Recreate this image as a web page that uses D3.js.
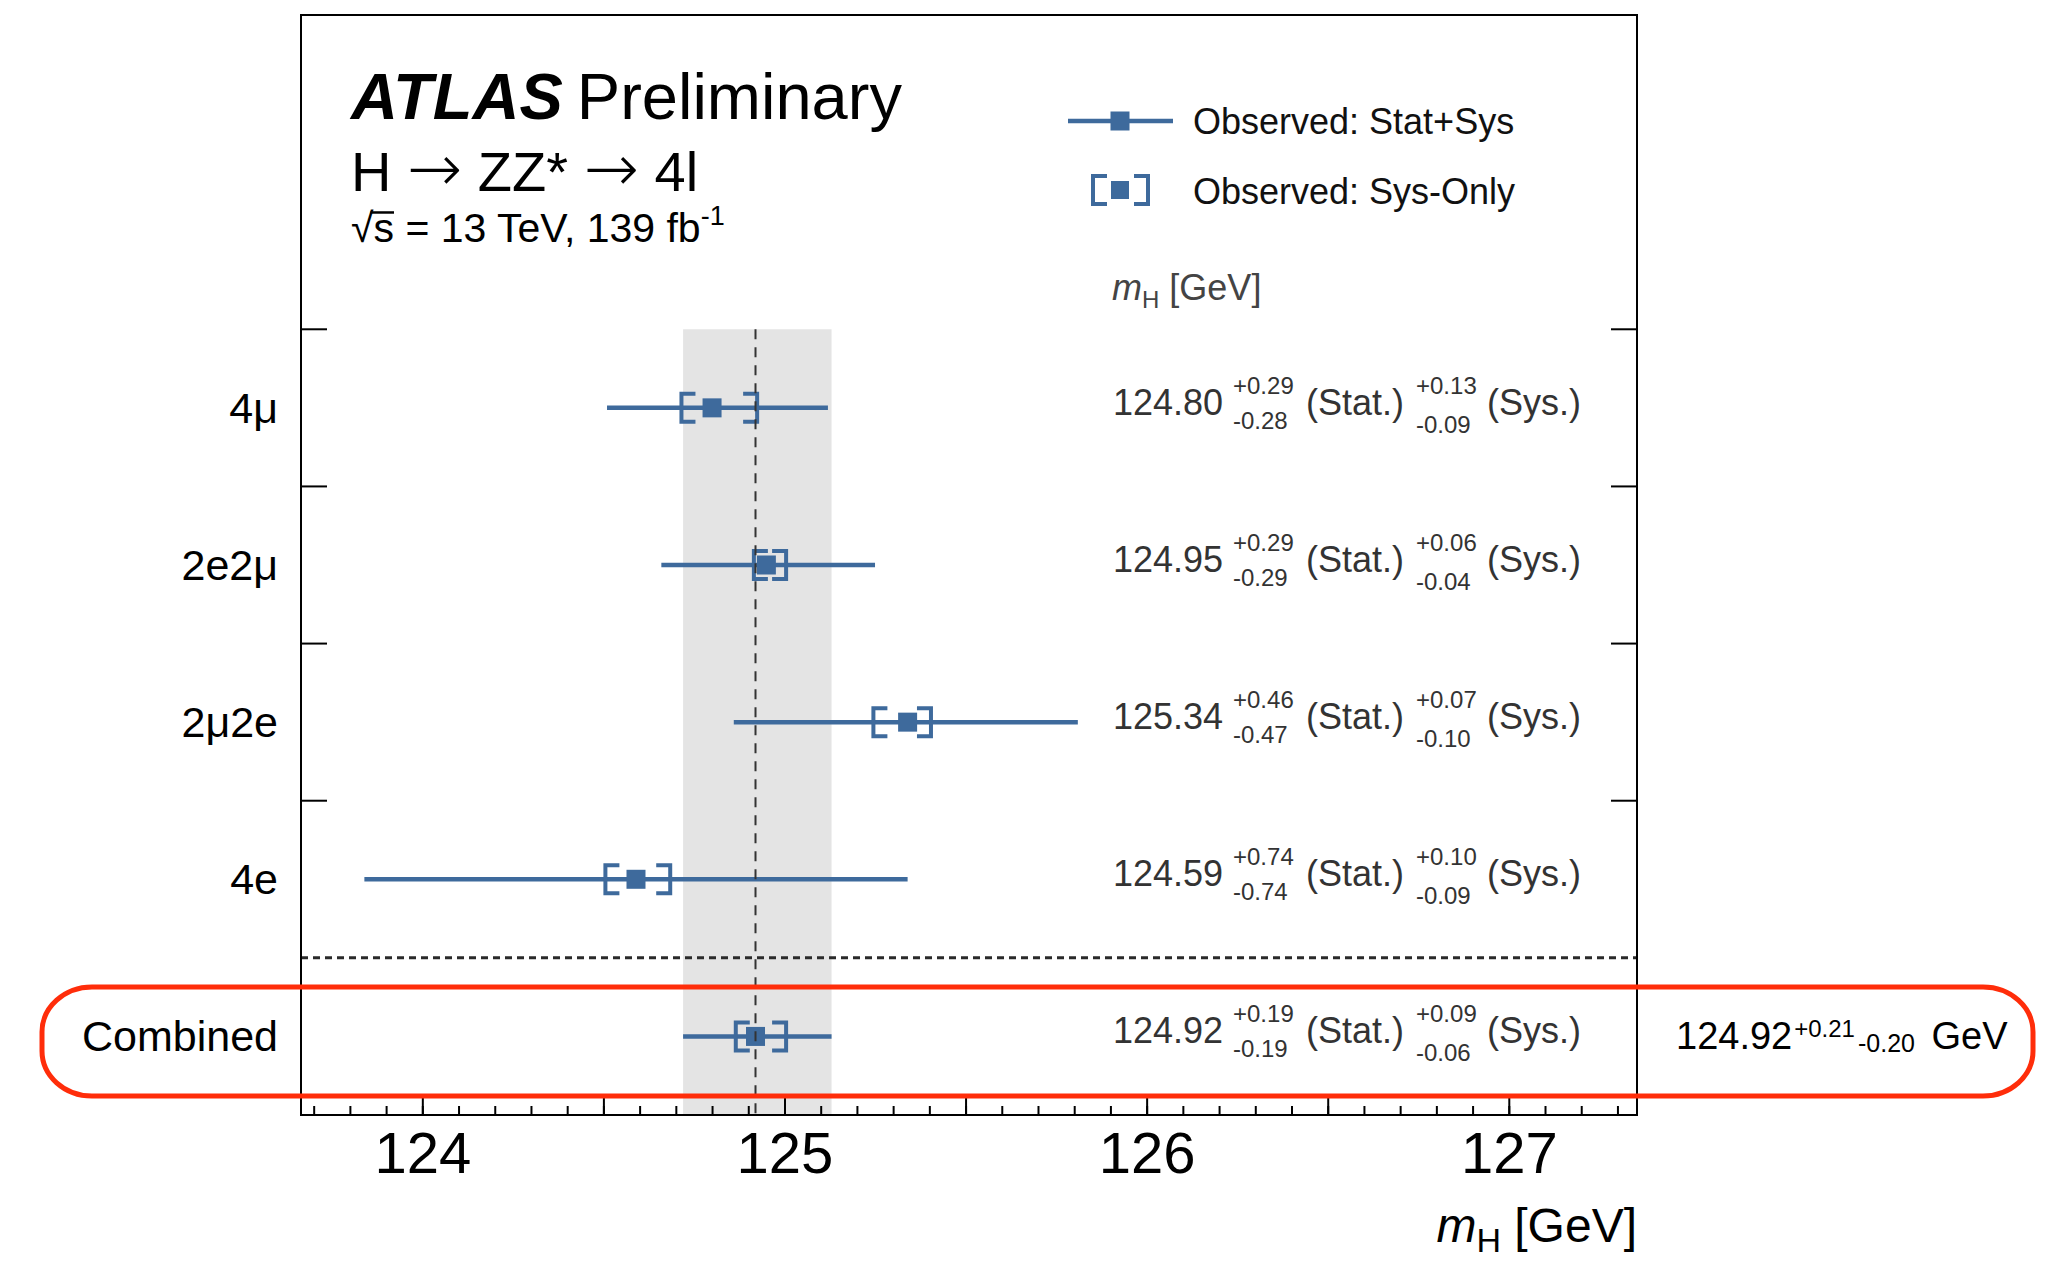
<!DOCTYPE html>
<html>
<head>
<meta charset="utf-8">
<script src="https://cdn.jsdelivr.net/npm/d3@7"></script>
<style>
  body { margin: 0; background: #fff; }
  text { font-family: "Liberation Sans", Arial, Helvetica, sans-serif; }
</style>
</head>
<body>
<svg id="chart" width="2049" height="1263"></svg>
<script>
// Higgs boson mass measurements in the H -> ZZ* -> 4l channel, per final state
const channels   = ["4μ", "2e2μ", "2μ2e", "4e", "Combined"];
const massValues = [124.80, 124.95, 125.34, 124.59, 124.92];
const statUp     = [0.29, 0.29, 0.46, 0.74, 0.19];
const statDown   = [0.28, 0.29, 0.47, 0.74, 0.19];
const sysUp      = [0.13, 0.06, 0.07, 0.10, 0.09];
const sysDown    = [0.09, 0.04, 0.10, 0.09, 0.06];
const tickLabels = [124, 125, 126, 127];

const W = 2049, H = 1263;
const frame = { left: 301, right: 1637, top: 15, bottom: 1115 };
const blue = "#3e6a9c";
const fmt = d3.format(".2f");

// total uncertainty: statistical and systematic added in quadrature
const totUp   = statUp.map((s, i) => +Math.hypot(s, sysUp[i]).toFixed(2));
const totDown = statDown.map((s, i) => +Math.hypot(s, sysDown[i]).toFixed(2));

const rows = channels.map((c, i) => ({
  name: c, m: massValues[i],
  su: statUp[i], sd: statDown[i], yu: sysUp[i], yd: sysDown[i],
  tu: totUp[i], td: totDown[i]
}));
const comb = rows[rows.length - 1];

const svg = d3.select("#chart");
svg.append("rect").attr("width", W).attr("height", H).attr("fill", "#fff");

const x = d3.scaleLinear().domain([123.665, 127.354]).range([frame.left, frame.right]);
// two header slots above the measurement rows
const y = d3.scaleBand().domain(["title", "legend", ...channels]).range([frame.top, frame.bottom]);
const cy = name => y(name) + y.bandwidth() / 2;
const rowTop = y(channels[0]);

// combined total-uncertainty band
svg.append("rect")
  .attr("x", x(comb.m - comb.td)).attr("width", x(comb.m + comb.tu) - x(comb.m - comb.td))
  .attr("y", rowTop).attr("height", frame.bottom - rowTop)
  .attr("fill", "#e4e4e4");

// x axis: minor ticks every 0.1, major every 0.5, labels on integers
const minorTicks = d3.range(1237, 1274).map(v => v / 10);
const majorTicks = d3.range(248, 255).map(v => v / 2);
const gMinor = svg.append("g").attr("transform", `translate(0,${frame.bottom})`)
  .call(d3.axisBottom(x).tickValues(minorTicks).tickSize(-9).tickFormat(""));
const gMajor = svg.append("g").attr("transform", `translate(0,${frame.bottom})`)
  .call(d3.axisBottom(x).tickValues(majorTicks).tickSize(-17).tickPadding(17)
    .tickFormat(d => tickLabels.includes(d) ? d : ""));
[gMinor, gMajor].forEach(g => {
  g.select(".domain").remove();
  g.selectAll(".tick line").attr("stroke", "#000").attr("stroke-width", 2);
});
gMajor.selectAll(".tick text").attr("font-size", 58).attr("fill", "#000")
  .style("font-family", '"Liberation Sans", Arial, Helvetica, sans-serif');

// row separators on both vertical edges
const boundaries = channels.slice(0, channels.length - 1).map(c => y(c));
svg.append("g").selectAll("line").data(boundaries).join("line")
  .attr("x1", frame.left).attr("x2", frame.left + 26).attr("y1", d => d).attr("y2", d => d)
  .attr("stroke", "#000").attr("stroke-width", 2);
svg.append("g").selectAll("line").data(boundaries).join("line")
  .attr("x1", frame.right - 26).attr("x2", frame.right).attr("y1", d => d).attr("y2", d => d)
  .attr("stroke", "#000").attr("stroke-width", 2);

// dashed separator above the combined row
svg.append("line")
  .attr("x1", frame.left).attr("x2", frame.right)
  .attr("y1", y(comb.name)).attr("y2", y(comb.name))
  .attr("stroke", "#2a2a2a").attr("stroke-width", 3).attr("stroke-dasharray", "7,5");

// measurement markers
const marks = svg.append("g").selectAll("g").data(rows).join("g");
marks.append("line")
  .attr("x1", d => x(d.m - d.td)).attr("x2", d => x(d.m + d.tu))
  .attr("y1", d => cy(d.name)).attr("y2", d => cy(d.name))
  .attr("stroke", blue).attr("stroke-width", 4.5);
function bracket(x0, yc, dir, arm = 14, half = 14) {
  // vertical bar with its outer edge at x0, arms pointing inward (dir = +1 right, -1 left)
  const xb = x0 + dir * 2;
  return `M${xb + dir * arm},${yc - half}H${xb}V${yc + half}H${xb + dir * arm}`;
}
marks.append("path")
  .attr("d", d => bracket(x(d.m - d.yd), cy(d.name), 1) + bracket(x(d.m + d.yu), cy(d.name), -1))
  .attr("fill", "none").attr("stroke", blue).attr("stroke-width", 4);
marks.append("rect")
  .attr("x", d => x(d.m) - 9.5).attr("y", d => cy(d.name) - 9.5)
  .attr("width", 19).attr("height", 19).attr("fill", blue);

// combined central value
svg.append("line")
  .attr("x1", x(comb.m)).attr("x2", x(comb.m))
  .attr("y1", rowTop).attr("y2", frame.bottom)
  .attr("stroke", "#333").attr("stroke-width", 2).attr("stroke-dasharray", "10,8");

// frame
svg.append("rect")
  .attr("x", frame.left).attr("y", frame.top)
  .attr("width", frame.right - frame.left).attr("height", frame.bottom - frame.top)
  .attr("fill", "none").attr("stroke", "#000").attr("stroke-width", 2);

// row labels
svg.append("g").selectAll("text").data(rows).join("text")
  .attr("x", 278).attr("y", d => cy(d.name) + 15)
  .attr("text-anchor", "end").attr("font-size", 43).attr("fill", "#000")
  .text(d => d.name);

// value annotations
const vals = svg.append("g").selectAll("g").data(rows).join("g")
  .attr("transform", d => `translate(1113,${cy(d.name)})`).attr("fill", "#333");
vals.append("text").attr("y", 7).attr("font-size", 36).text(d => fmt(d.m));
vals.append("text").attr("x", 120).attr("y", -14).attr("font-size", 24).text(d => "+" + fmt(d.su));
vals.append("text").attr("x", 120).attr("y", 21).attr("font-size", 24).text(d => "-" + fmt(d.sd));
vals.append("text").attr("x", 193).attr("y", 7).attr("font-size", 36).text("(Stat.)");
vals.append("text").attr("x", 303).attr("y", -14).attr("font-size", 24).text(d => "+" + fmt(d.yu));
vals.append("text").attr("x", 303).attr("y", 25).attr("font-size", 24).text(d => "-" + fmt(d.yd));
vals.append("text").attr("x", 374).attr("y", 7).attr("font-size", 36).text("(Sys.)");

// column header
const hdr = svg.append("text").attr("x", 1112).attr("y", 300).attr("font-size", 36).attr("fill", "#444");
hdr.append("tspan").attr("font-style", "italic").text("m");
hdr.append("tspan").attr("font-size", 24).attr("dy", 8).text("H");
hdr.append("tspan").attr("dy", -8).text(" [GeV]");

// title block
const t1 = svg.append("text").attr("x", 351).attr("y", 119).attr("font-size", 65).attr("fill", "#000");
t1.append("tspan").attr("font-weight", "bold").attr("font-style", "italic").text("ATLAS");
t1.append("tspan").attr("dx", 14).text("Preliminary");

const t2 = svg.append("text").attr("x", 351).attr("y", 191).attr("font-size", 56).attr("fill", "#000");
const arrow = sel => sel.append("tspan")
  .attr("font-family", '"DejaVu Sans", sans-serif').attr("font-weight", 200)
  .attr("font-size", 66).text("→");
t2.append("tspan").text("H ");
arrow(t2);
t2.append("tspan").text(" ZZ* ");
arrow(t2);
t2.append("tspan").text(" 4l");

const t3Size = 41, t3Base = 242;
const t3 = svg.append("text").attr("x", 351).attr("y", t3Base).attr("font-size", t3Size).attr("fill", "#000");
t3.append("tspan").text("√s");
t3.append("tspan").text(" = 13 TeV, 139 fb");
t3.append("tspan").attr("font-size", 27).attr("dy", -17).text("-1");
// radical bar over the "s"
{
  const root = t3.node().getExtentOfChar(0);
  const s = t3.node().getExtentOfChar(1);
  svg.append("line")
    .attr("x1", root.x + root.width - 3).attr("x2", s.x + s.width)
    .attr("y1", t3Base - 0.72 * t3Size).attr("y2", t3Base - 0.72 * t3Size)
    .attr("stroke", "#000").attr("stroke-width", 2.5);
}

// legend
const lg = svg.append("g");
lg.append("line").attr("x1", 1068).attr("x2", 1173).attr("y1", 121).attr("y2", 121)
  .attr("stroke", blue).attr("stroke-width", 4.5);
lg.append("rect").attr("x", 1110.5).attr("y", 111.5).attr("width", 19).attr("height", 19).attr("fill", blue);
lg.append("text").attr("x", 1193).attr("y", 134).attr("font-size", 36).attr("fill", "#111")
  .text("Observed: Stat+Sys");
lg.append("path").attr("d", bracket(1091, 190, 1) + bracket(1150, 190, -1))
  .attr("fill", "none").attr("stroke", blue).attr("stroke-width", 4);
lg.append("rect").attr("x", 1111).attr("y", 181).attr("width", 18).attr("height", 18).attr("fill", blue);
lg.append("text").attr("x", 1193).attr("y", 204).attr("font-size", 36).attr("fill", "#111")
  .text("Observed: Sys-Only");

// x axis title
const xt = svg.append("text").attr("x", frame.right).attr("y", 1242)
  .attr("text-anchor", "end").attr("font-size", 48).attr("fill", "#000");
xt.append("tspan").attr("font-style", "italic").text("m");
xt.append("tspan").attr("font-size", 34).attr("dy", 10).text("H");
xt.append("tspan").attr("dy", -10).text(" [GeV]");

// highlighted combined result
svg.append("rect")
  .attr("x", 42).attr("y", 987).attr("width", 2033 - 42).attr("height", 1096 - 987)
  .attr("rx", 50).attr("ry", 45)
  .attr("fill", "none").attr("stroke", "#ff2d0a").attr("stroke-width", 5);
const res = svg.append("text").attr("x", 1676).attr("y", 1049).attr("font-size", 38).attr("fill", "#000");
res.append("tspan").text(fmt(comb.m));
res.append("tspan").attr("font-size", 24).attr("dx", 2).attr("dy", -12).text("+" + fmt(comb.tu));
res.append("tspan").attr("font-size", 25).attr("dx", 3).attr("dy", 15).text("-" + fmt(comb.td));
res.append("tspan").attr("dx", 6).attr("dy", -3).text(" GeV");
</script>
</body>
</html>
